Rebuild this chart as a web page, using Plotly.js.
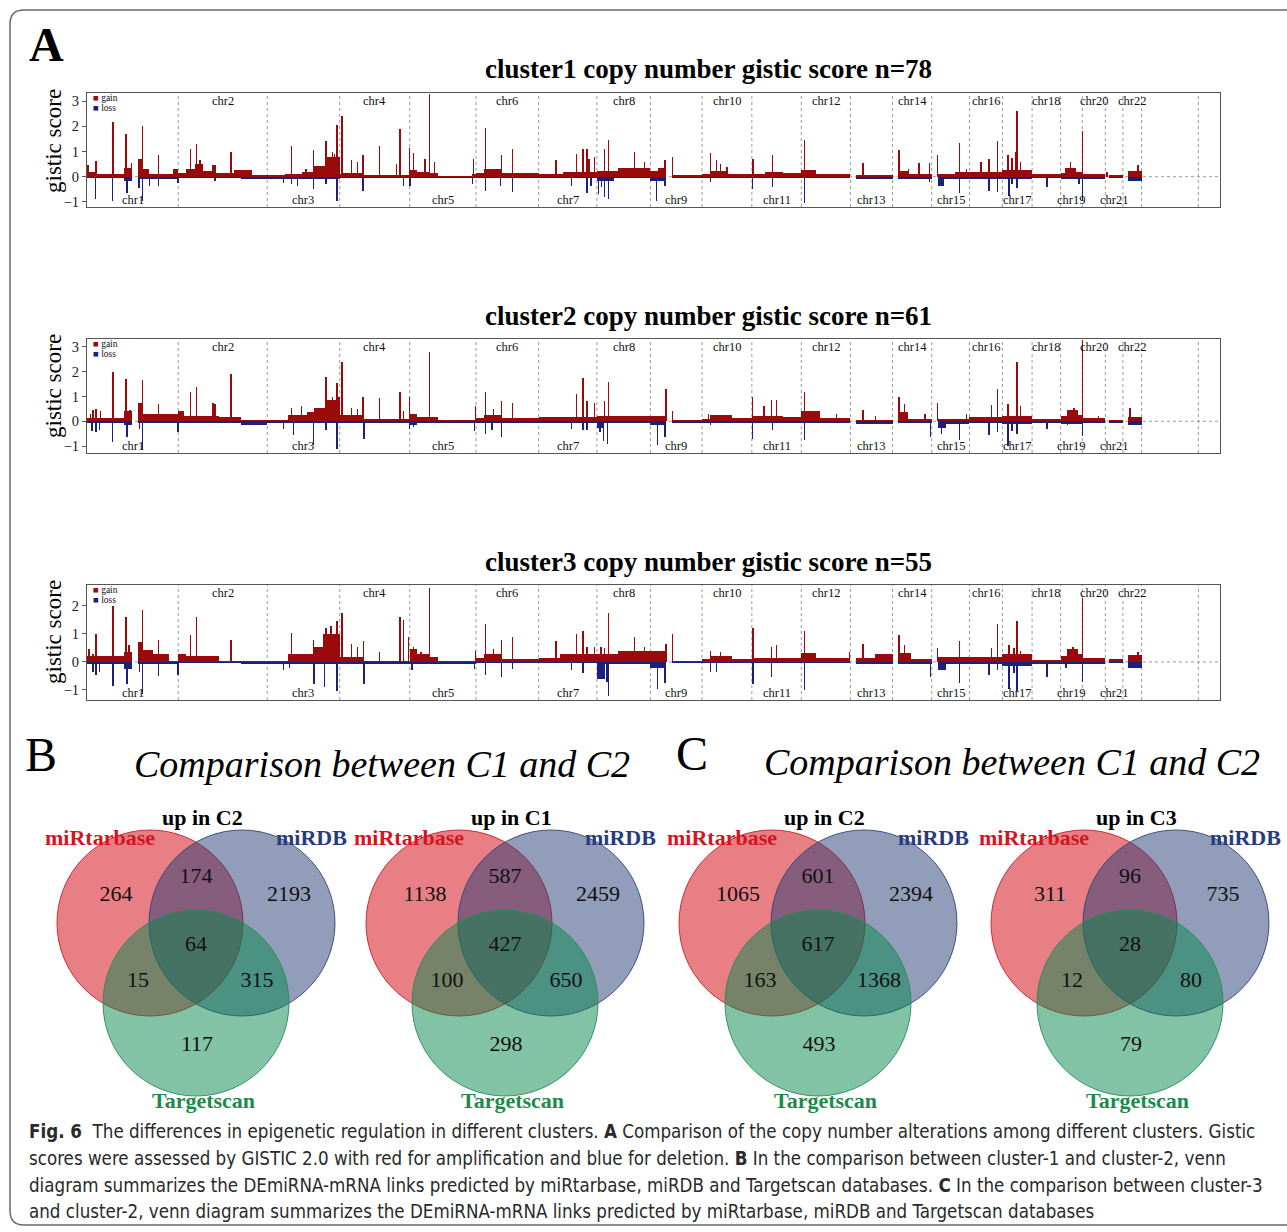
<!DOCTYPE html>
<html><head><meta charset="utf-8">
<script src="https://cdn.plot.ly/plotly-3.0.1.min.js"></script>
<style>html,body{margin:0;padding:0;background:#fff}#chart{width:1287px;height:1232px}</style>
</head><body><div id="chart"></div>
<script>
// ---------- DATA ----------
const chrLabels = ['chr1','chr2','chr3','chr4','chr5','chr6','chr7','chr8','chr9','chr10','chr11','chr12','chr13','chr14','chr15','chr16','chr17','chr18','chr19','chr20','chr21','chr22'];
const chrLengthsMb = [249,243,198,191,181,171,159,146,141,136,135,134,115,107,103,90,81,78,59,63,48,51,155,59]; // chr1..22, X, Y

const panelTitles = ['cluster1 copy number gistic score n=78','cluster2 copy number gistic score n=61','cluster3 copy number gistic score n=55'];
const panelYTicks = [[-1,0,1,2,3],[-1,0,1,2,3],[-1,0,1,2]];
const panelYRange = [[-1.2,3.32],[-1.28,3.32],[-1.36,2.75]];

// segments: [startMb, endMb, score]; peaks: [posMb, score]  (genome coordinates)
const p1GainSeg = [[0,22,0.2],[22,100,0.1],[100,124,0.35],[139,152,0.7],[152,169,0.3],[169,236,0.12],[236,249,0.3],
 [249,270,0.15],[270,294,0.32],[294,316,0.5],[316,350,0.22],[350,400,0.13],[400,451,0.28],[451,492,0.05],
 [492,541,0.05],[541,586,0.12],[586,620,0.18],[620,654,0.42],[654,690,0.8],
 [690,699,0.1],[699,756,0.16],[756,881,0.07],
 [881,902,0.28],[902,936,0.18],[936,959,0.13],[959,1050,0.02],[1050,1062,0.1],
 [1062,1084,0.14],[1084,1129,0.32],[1129,1233,0.13],
 [1233,1300,0.12],[1300,1392,0.18],
 [1392,1450,0.22],[1450,1538,0.33],
 [1538,1558,0.22],[1558,1580,0.35],[1598,1679,0.07],
 [1679,1700,0.1],[1700,1750,0.22],[1750,1815,0.1],
 [1815,1850,0.1],[1850,1900,0.18],[1900,1950,0.13],
 [1950,1990,0.27],[1990,2084,0.1],
 [2098,2199,0.07],
 [2214,2240,0.22],[2240,2306,0.11],
 [2322,2370,0.11],[2370,2409,0.18],
 [2409,2499,0.2],[2499,2580,0.25],[2580,2658,0.1],
 [2658,2670,0.14],[2670,2700,0.36],[2700,2717,0.18],
 [2717,2780,0.11],[2790,2828,0.07],[2842,2879,0.22]];
const p1GainPeak = [[3,0.45],[25,0.62],[71,2.18],[105,0.9],[107,1.68],[122,0.55],[152,2.0],[195,0.85],
 [282,1.1],[299,1.3],[308,0.65],[344,0.45],[350,0.45],[393,1.0],
 [558,1.2],[598,0.3],[618,1.05],[652,1.4],[670,1.0],[676,0.9],[682,2.05],
 [696,2.4],[722,0.65],[739,0.6],[753,0.85],[799,1.2],[845,0.5],[855,1.9],
 [880,1.15],[891,0.95],[923,0.7],[935,3.3],[948,0.6],[1055,0.7],
 [1088,1.95],[1131,0.85],[1162,1.1],
 [1280,0.65],[1337,0.9],[1354,1.1],[1365,1.1],[1371,0.7],[1385,0.8],
 [1412,1.1],[1424,1.45],[1495,1.0],[1522,0.6],
 [1578,0.65],[1598,0.8],
 [1702,0.95],[1719,0.65],[1730,0.5],[1747,0.4],
 [1818,0.7],[1871,0.85],[1959,1.45],[2119,0.55],
 [2217,1.05],[2243,0.3],[2271,0.55],[2300,0.55],
 [2322,0.85],[2382,1.35],[2401,0.3],
 [2441,0.6],[2463,0.7],[2486,1.4],
 [2514,0.85],[2525,0.75],[2534,1.0],[2539,2.6],[2548,0.6],
 [2685,0.6],[2718,1.8],[2785,0.2],[2869,0.45]];
const p1LossSeg = [[0,100,-0.06],[100,124,-0.18],[139,249,-0.07],
 [249,420,-0.05],[420,492,-0.1],[492,541,-0.09],[541,690,-0.07],[690,881,-0.05],[881,1062,-0.06],
 [1062,1233,-0.05],[1233,1392,-0.05],[1392,1440,-0.18],[1440,1538,-0.05],
 [1538,1580,-0.16],[1598,1679,-0.05],[1679,1815,-0.05],[1815,1950,-0.05],[1950,2084,-0.05],
 [2098,2199,-0.09],[2214,2306,-0.07],[2322,2340,-0.35],[2340,2409,-0.09],[2409,2499,-0.07],
 [2499,2580,-0.09],[2580,2658,-0.05],[2658,2717,-0.1],[2717,2780,-0.07],[2790,2828,-0.05],[2842,2879,-0.15]];
const p1LossPeak = [[23,-0.9],[70,-0.95],[109,-0.65],[142,-0.45],[152,-0.95],[171,-0.35],[195,-0.35],
 [248,-0.25],[349,-0.15],
 [536,-0.25],[558,-0.3],[575,-0.35],[618,-0.5],[652,-0.3],[682,-0.95],
 [753,-0.55],[864,-0.35],[882,-0.35],[1052,-0.3],
 [1088,-0.55],[1129,-0.35],[1162,-0.6],
 [1323,-0.35],[1365,-0.65],[1376,-0.35],
 [1397,-0.7],[1405,-0.4],[1412,-0.8],[1424,-0.9],
 [1555,-0.95],[1578,-0.35],[1702,-0.2],
 [1817,-0.5],[1871,-0.4],[1959,-1.05],[2300,-0.2],[2382,-0.65],
 [2463,-0.55],[2486,-0.6],[2517,-0.75],[2525,-0.3],[2539,-0.45],
 [2621,-0.4],[2708,-0.3],[2718,-0.95]];

const p2GainSeg = [[0,100,0.12],[100,124,0.4],[139,152,0.75],[152,249,0.3],
 [249,265,0.4],[265,360,0.22],[360,420,0.18],[420,492,0.07],
 [492,550,0.05],[550,600,0.27],[600,620,0.36],[620,654,0.55],[654,690,0.85],
 [690,756,0.27],[756,881,0.09],
 [881,902,0.28],[902,959,0.18],[959,1062,0.05],
 [1062,1084,0.14],[1084,1129,0.27],[1129,1233,0.14],
 [1233,1392,0.18],[1392,1538,0.2],
 [1538,1580,0.23],[1598,1679,0.05],
 [1679,1700,0.11],[1700,1760,0.25],[1760,1815,0.13],
 [1815,1900,0.22],[1900,1950,0.18],
 [1950,2000,0.4],[2000,2084,0.13],
 [2098,2199,0.06],[2214,2240,0.36],[2240,2306,0.11],
 [2322,2409,0.1],[2409,2499,0.18],[2499,2580,0.23],[2580,2658,0.11],
 [2658,2675,0.22],[2675,2705,0.45],[2705,2717,0.27],
 [2717,2780,0.14],[2790,2828,0.05],[2842,2879,0.18]];
const p2GainPeak = [[9,0.3],[17,0.45],[25,0.5],[37,0.4],[71,2.0],[107,1.7],[118,0.45],[152,1.65],[195,0.7],
 [282,1.2],[299,1.4],[344,0.75],[350,0.7],[393,1.9],
 [558,0.55],[586,0.6],[652,1.8],[670,1.0],[682,1.55],[688,1.0],
 [696,2.4],[722,0.55],[739,0.5],[753,1.0],[799,0.95],[855,1.2],[864,0.4],
 [880,1.0],[935,2.8],
 [1060,0.6],[1088,1.2],[1110,0.5],[1131,0.8],[1162,0.75],
 [1337,1.1],[1354,1.75],[1365,0.8],[1385,0.75],
 [1412,0.8],[1424,1.6],[1580,1.3],[1598,0.4],[1696,0.3],
 [1817,1.0],[1848,0.6],[1869,0.85],[1882,0.85],
 [1959,1.2],[2046,0.3],[2119,0.45],[2153,0.2],
 [2217,1.0],[2232,0.7],[2288,0.3],
 [2322,0.75],[2401,0.3],[2469,0.65],[2486,1.3],
 [2514,0.7],[2539,2.4],[2548,0.6],
 [2694,0.55],[2718,3.3],[2762,0.2],[2847,0.55]];
const p2LossSeg = [[0,100,-0.07],[100,124,-0.17],[139,249,-0.07],
 [249,420,-0.05],[420,492,-0.15],[492,690,-0.07],[690,881,-0.05],
 [881,902,-0.16],[902,1062,-0.05],[1062,1233,-0.05],[1233,1392,-0.05],
 [1392,1410,-0.28],[1410,1538,-0.05],[1538,1580,-0.17],[1598,1679,-0.05],
 [1679,1815,-0.05],[1815,1950,-0.06],[1950,2084,-0.06],[2098,2199,-0.09],[2214,2306,-0.07],
 [2322,2345,-0.27],[2345,2409,-0.09],[2409,2499,-0.07],[2499,2580,-0.1],[2580,2658,-0.05],
 [2658,2717,-0.09],[2717,2780,-0.07],[2790,2828,-0.05],[2842,2879,-0.13]];
const p2LossPeak = [[14,-0.4],[25,-0.45],[34,-0.35],[70,-0.85],[109,-0.65],[144,-0.3],[152,-1.15],
 [248,-0.45],[536,-0.3],[563,-0.55],[618,-0.95],[652,-0.35],[682,-1.1],
 [756,-0.7],[880,-0.3],[891,-0.25],
 [1058,-0.4],[1088,-0.5],[1106,-0.35],[1131,-0.65],
 [1323,-0.3],[1354,-0.35],[1365,-0.35],[1400,-0.45],[1410,-0.8],[1421,-0.9],
 [1557,-0.95],[1578,-0.65],[1702,-0.15],
 [1817,-0.7],[1871,-0.35],[1959,-0.75],[2303,-0.65],
 [2333,-0.5],[2382,-0.75],[2463,-0.55],[2486,-0.45],
 [2514,-1.0],[2525,-0.4],[2539,-0.5],[2621,-0.3],[2677,-0.15],[2718,-0.6]];

const p3GainSeg = [[0,100,0.2],[100,124,0.36],[139,152,0.7],[152,180,0.42],[180,225,0.27],[225,249,0.05],
 [249,270,0.27],[270,360,0.2],[360,492,0.05],
 [492,550,0.05],[550,620,0.27],[620,645,0.55],[645,690,1.0],
 [690,756,0.18],[756,881,0.05],
 [881,902,0.45],[902,936,0.27],[936,959,0.18],[959,1062,0.05],
 [1062,1084,0.14],[1084,1129,0.27],[1129,1233,0.1],
 [1233,1290,0.14],[1290,1392,0.27],
 [1392,1450,0.27],[1450,1538,0.4],
 [1538,1580,0.4],[1598,1679,0.05],
 [1679,1700,0.1],[1700,1760,0.2],[1760,1815,0.11],
 [1815,1950,0.14],[1950,1990,0.32],[1990,2084,0.14],
 [2098,2150,0.14],[2150,2199,0.27],[2214,2250,0.32],[2250,2306,0.11],
 [2322,2409,0.18],[2409,2499,0.18],[2499,2580,0.27],[2580,2658,0.07],
 [2658,2675,0.23],[2675,2705,0.45],[2705,2717,0.27],
 [2717,2780,0.14],[2790,2828,0.1],[2842,2879,0.25]];
const p3GainPeak = [[6,0.45],[17,0.3],[25,1.0],[71,2.0],[107,1.6],[115,0.6],[152,1.85],[195,0.8],
 [282,0.95],[299,1.6],[393,0.8],
 [558,1.05],[618,0.8],[652,1.2],[666,1.3],[682,1.45],
 [696,1.75],[722,0.65],[739,0.55],[755,0.75],[799,0.35],[855,1.6],[864,1.5],
 [878,0.9],[891,0.55],[912,0.35],[935,2.65],
 [1060,0.4],[1088,1.35],[1110,0.45],[1131,0.8],[1162,0.9],
 [1280,0.75],[1337,1.0],[1354,1.1],[1365,0.55],[1385,0.55],
 [1403,0.55],[1412,0.5],[1424,1.75],[1495,0.9],[1522,0.55],
 [1580,0.65],[1598,1.0],[1702,0.4],[1730,0.35],
 [1818,1.2],[1869,0.55],[1882,0.6],[1959,1.1],[2082,0.35],
 [2119,0.65],[2217,0.95],[2232,0.6],[2322,0.5],[2382,0.75],
 [2469,0.5],[2486,1.35],[2517,0.6],[2531,0.5],[2539,1.45],[2548,0.4],[2565,0.3],
 [2692,0.55],[2718,2.3],[2869,0.35]];
const p3LossSeg = [[0,100,-0.09],[100,124,-0.25],[139,249,-0.07],
 [249,420,-0.05],[420,492,-0.09],[492,690,-0.09],[690,881,-0.06],[881,1062,-0.07],
 [1062,1233,-0.05],[1233,1392,-0.05],[1392,1415,-0.6],[1415,1538,-0.06],
 [1538,1580,-0.22],[1598,1679,-0.05],[1679,1815,-0.05],[1815,1950,-0.05],[1950,2084,-0.05],
 [2098,2199,-0.09],[2214,2306,-0.07],[2322,2345,-0.3],[2345,2409,-0.09],[2409,2499,-0.09],
 [2499,2580,-0.13],[2580,2658,-0.06],[2658,2717,-0.09],[2717,2780,-0.06],[2790,2828,-0.05],[2842,2879,-0.22]];
const p3LossPeak = [[17,-0.35],[25,-0.45],[34,-0.35],[71,-0.85],[109,-0.8],[144,-0.35],[152,-1.15],[195,-0.5],
 [248,-0.45],[536,-0.3],[553,-0.2],[620,-0.8],[648,-0.9],[682,-1.05],
 [756,-0.8],[887,-0.3],
 [1058,-0.25],[1088,-0.45],[1131,-0.55],[1162,-0.25],
 [1323,-0.3],[1354,-0.4],[1420,-0.7],[1424,-1.2],
 [1557,-0.95],[1578,-0.75],[1702,-0.35],[1719,-0.35],
 [1818,-0.8],[1869,-0.55],[1959,-1.0],[2303,-0.55],[2382,-0.75],
 [2463,-0.45],[2486,-0.3],[2517,-0.95],[2531,-0.4],[2539,-1.05],
 [2621,-0.55],[2672,-0.2],[2718,-0.7]];

// Venn diagrams
const vennTitles = ['up in C2','up in C1','up in C2','up in C3'];
const vennSetNames = ['miRtarbase','miRDB','Targetscan'];
// regions: only miRtarbase, miRtarbase&miRDB, only miRDB, all three, miRtarbase&Targetscan, miRDB&Targetscan, only Targetscan
const vennC1C2up2 = [264,174,2193,64,15,315,117];
const vennC1C2up1 = [1138,587,2459,427,100,650,298];
const vennC3C2up2 = [1065,601,2394,617,163,1368,493];
const vennC3C2up3 = [311,96,735,28,12,80,79];
const sectionTitles = ['Comparison between C1 and C2','Comparison between C1 and C2'];

const captionLines = [
 '<b>Fig. 6</b>  The differences in epigenetic regulation in different clusters. <b>A</b> Comparison of the copy number alterations among different clusters. Gistic',
 'scores were assessed by GISTIC 2.0 with red for amplification and blue for deletion. <b>B</b> In the comparison between cluster-1 and cluster-2, venn',
 'diagram summarizes the DEmiRNA-mRNA links predicted by miRtarbase, miRDB and Targetscan databases. <b>C</b> In the comparison between cluster-3',
 'and cluster-2, venn diagram summarizes the DEmiRNA-mRNA links predicted by miRtarbase, miRDB and Targetscan databases'];

// ---------- BUILD ----------
const W = 1287, H = 1232;
const px = v => v / W, py = v => 1 - v / H;
const SERIF = 'Liberation Serif, Times New Roman, serif';
const GAIN = '#9b0a0a', LOSS = '#1b207a';
const cum = [0]; chrLengthsMb.forEach(l => cum.push(cum[cum.length-1] + l));
const genomeEnd = cum[cum.length-1];

const panels = [
 {gs:p1GainSeg, gp:p1GainPeak, ls:p1LossSeg, lp:p1LossPeak, top:93, bot:207},
 {gs:p2GainSeg, gp:p2GainPeak, ls:p2LossSeg, lp:p2LossPeak, top:339, bot:453},
 {gs:p3GainSeg, gp:p3GainPeak, ls:p3LossSeg, lp:p3LossPeak, top:585, bot:700}];
const titleY = [69, 316, 562], yTitleY = [141, 386, 632];
const spikeW = 4;

function bars(segs, peaks){
  const x=[], y=[], w=[];
  segs.forEach(s => { x.push((s[0]+s[1])/2); y.push(s[2]); w.push(s[1]-s[0]); });
  peaks.forEach(p => { x.push(p[0]); y.push(p[1]); w.push(spikeW); });
  return {x, y, w};
}

const traces = [], shapes = [], annotations = [];
const layout = {width:W, height:H, margin:{l:0,r:0,t:0,b:0}, paper_bgcolor:'#fff', plot_bgcolor:'rgba(0,0,0,0)',
  barmode:'overlay', bargap:0, showlegend:false, font:{family:SERIF, color:'#111'}};
const ann = o => annotations.push(Object.assign({showarrow:false, xanchor:'center', yanchor:'middle'}, o));

panels.forEach((p, i) => {
  const s = i === 0 ? '' : String(i+1);
  const g = bars(p.gs, p.gp), l = bars(p.ls, p.lp);
  traces.push({type:'bar', x:g.x, y:g.y, width:g.w, xaxis:'x'+s, yaxis:'y'+s, marker:{color:GAIN, line:{width:0}}, hoverinfo:'skip', name:'gain'});
  traces.push({type:'bar', x:l.x, y:l.y, width:l.w, xaxis:'x'+s, yaxis:'y'+s, marker:{color:LOSS, line:{width:0}}, hoverinfo:'skip', name:'loss'});
  layout['xaxis'+s] = {domain:[px(87), px(1220)], range:[0, genomeEnd], anchor:'y'+s, showgrid:false, zeroline:false,
    showticklabels:false, ticks:'', showline:true, mirror:true, linecolor:'#555', linewidth:1, fixedrange:true};
  layout['yaxis'+s] = {domain:[py(p.bot), py(p.top)], range:panelYRange[i], anchor:'x'+s, showgrid:false, zeroline:false,
    tickvals:panelYTicks[i], ticks:'outside', ticklen:4, tickcolor:'#555', tickfont:{family:SERIF, size:14.5, color:'#222'},
    showline:true, mirror:true, linecolor:'#555', linewidth:1, fixedrange:true};
  for (let k = 1; k < cum.length - 1; k++) {
    shapes.push({type:'line', layer:'below', xref:'x'+s, yref:'y'+s+' domain', x0:cum[k], x1:cum[k], y0:0, y1:1,
      line:{color:'#9a9a9a', width:1, dash:'dot'}});
  }
  shapes.push({type:'line', layer:'below', xref:'x'+s+' domain', yref:'y'+s, x0:0, x1:1, y0:0, y1:0,
    line:{color:'#9a9a9a', width:1, dash:'dot'}});
  chrLabels.forEach((c, k) => {
    const odd = (k % 2 === 0);
    ann({xref:'x'+s, yref:'paper', x:(cum[k]+cum[k+1])/2, y:py(odd ? p.bot - 7 : p.top + 7.5),
      text:c, font:{family:SERIF, size:12.5, color:'#111'}});
  });
  ann({xref:'paper', yref:'paper', x:px(91), y:py(p.top+5), xanchor:'left',
    text:'<span style="color:'+GAIN+'">■</span> gain', font:{family:SERIF, size:9.5, color:'#111'}});
  ann({xref:'paper', yref:'paper', x:px(91), y:py(p.top+15), xanchor:'left',
    text:'<span style="color:'+LOSS+'">■</span> loss', font:{family:SERIF, size:9.5, color:'#111'}});
  ann({xref:'paper', yref:'paper', x:px(708), y:py(titleY[i]),
    text:'<b>'+panelTitles[i]+'</b>', font:{family:SERIF, size:27, color:'#000'}});
  ann({xref:'paper', yref:'paper', x:px(53), y:py(yTitleY[i]), textangle:-90,
    text:'gistic score', font:{family:SERIF, size:23, color:'#000'}});
});

// Venn axis in pixel space
layout.xaxis4 = {domain:[0,1], range:[0, W], visible:false, fixedrange:true, anchor:'y4'};
layout.yaxis4 = {domain:[py(1110), py(720)], range:[1110, 720], visible:false, fixedrange:true, anchor:'x4'};
const vennData = [vennC1C2up2, vennC1C2up1, vennC3C2up2, vennC3C2up3];
const vennMid = [196, 505, 818, 1130], vennY = 923, R = 93;
const circleOff = [[-46,0],[46,0],[0,80]];
const fills = ['rgba(210,0,12,0.5)','rgba(35,60,115,0.5)','rgba(5,135,75,0.5)'];
const strokes = ['rgba(200,30,40,0.9)','rgba(50,70,120,0.9)','rgba(40,140,90,0.9)'];
const labelColors = ['#d4141e','#283c7c','#1d8a4a'];
const regionOff = [[-80,-28],[0,-46],[93,-28],[0,22],[-58,58],[61,58],[1,122]];
vennData.forEach((counts, v) => {
  const cx = vennMid[v];
  circleOff.forEach((o, k) => {
    shapes.push({type:'circle', layer:'below', xref:'x4', yref:'y4', x0:cx+o[0]-R, x1:cx+o[0]+R, y0:vennY+o[1]-R, y1:vennY+o[1]+R,
      fillcolor:fills[k], line:{color:strokes[k], width:1}});
  });
  traces.push({type:'scatter', mode:'text', xaxis:'x4', yaxis:'y4', hoverinfo:'skip',
    x:regionOff.map(o => cx+o[0]), y:regionOff.map(o => vennY+o[1]), text:counts.map(String),
    textfont:{family:SERIF, size:22, color:'#111'}, textposition:'middle center'});
  ann({xref:'x4', yref:'y4', x:cx+6, y:817, text:'<b>'+vennTitles[v]+'</b>', font:{family:SERIF, size:22, color:'#000'}});
  ann({xref:'x4', yref:'y4', x:cx-96, y:837, text:'<b>'+vennSetNames[0]+'</b>', font:{family:SERIF, size:22, color:labelColors[0]}});
  ann({xref:'x4', yref:'y4', x:cx+115, y:837, text:'<b>'+vennSetNames[1]+'</b>', font:{family:SERIF, size:22, color:labelColors[1]}});
  ann({xref:'x4', yref:'y4', x:cx+7, y:1100, text:'<b>'+vennSetNames[2]+'</b>', font:{family:SERIF, size:22, color:labelColors[2]}});
});
ann({xref:'paper', yref:'paper', x:px(382), y:py(764), text:'<i>'+sectionTitles[0]+'</i>', font:{family:SERIF, size:38, color:'#000'}});
ann({xref:'paper', yref:'paper', x:px(1012), y:py(762), text:'<i>'+sectionTitles[1]+'</i>', font:{family:SERIF, size:38, color:'#000'}});

// panel letters
ann({xref:'paper', yref:'paper', x:px(46), y:py(45), text:'<b>A</b>', font:{family:SERIF, size:48, color:'#000'}});
ann({xref:'paper', yref:'paper', x:px(41), y:py(754), text:'B', font:{family:SERIF, size:48, color:'#000'}});
ann({xref:'paper', yref:'paper', x:px(692), y:py(753), text:'C', font:{family:SERIF, size:48, color:'#000'}});

// caption
const capY = [1131, 1158, 1185, 1211];
captionLines.forEach((t, k) => {
  ann({xref:'paper', yref:'paper', x:px(27), y:py(capY[k]), xanchor:'left',
    text:t, font:{family:'Liberation Sans Narrow, DejaVu Sans Condensed, sans-serif', size:18.6, color:'#2a2a2a'}});
});

// outer rounded frame
const r = 14;
shapes.push({type:'path', xref:'paper', yref:'paper', layer:'above', line:{color:'#6a6a6a', width:1.5},
  path:`M ${px(1300)} ${py(10)} L ${px(10+r)} ${py(10)} Q ${px(10)} ${py(10)} ${px(10)} ${py(10+r)} L ${px(10)} ${py(1225-r)} Q ${px(10)} ${py(1225)} ${px(10+r)} ${py(1225)} L ${px(1300)} ${py(1225)}`});

layout.shapes = shapes;
layout.annotations = annotations;
Plotly.newPlot('chart', traces, layout, {staticPlot:true, displayModeBar:false});
</script></body></html>
